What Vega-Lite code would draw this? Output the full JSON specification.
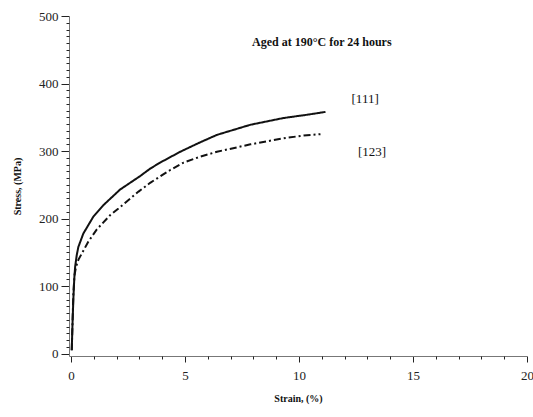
{
  "$schema": "https://vega.github.io/schema/vega-lite/v6.json",
  "autosize": {"type": "none"},
  "width": 458,
  "height": 340,
  "padding": {"left": 69, "top": 16, "right": 6, "bottom": 61},
  "background": "white",
  "config": {
    "view": {"stroke": null},
    "font": "Liberation Serif",
    "axis": {"labelFont": "Liberation Serif", "titleFont": "Liberation Serif", "grid": false}
  },
  "datasets": {
    "curves": [
      {"strain": 0.03, "stress": 5, "orient": "[111]"},
      {"strain": 0.06, "stress": 40, "orient": "[111]"},
      {"strain": 0.1, "stress": 80, "orient": "[111]"},
      {"strain": 0.14, "stress": 110, "orient": "[111]"},
      {"strain": 0.18, "stress": 129, "orient": "[111]"},
      {"strain": 0.25, "stress": 146, "orient": "[111]"},
      {"strain": 0.32, "stress": 158, "orient": "[111]"},
      {"strain": 0.54, "stress": 178, "orient": "[111]"},
      {"strain": 0.98, "stress": 203, "orient": "[111]"},
      {"strain": 1.42, "stress": 220, "orient": "[111]"},
      {"strain": 2.15, "stress": 243, "orient": "[111]"},
      {"strain": 3.03, "stress": 263, "orient": "[111]"},
      {"strain": 3.47, "stress": 274, "orient": "[111]"},
      {"strain": 3.91, "stress": 283, "orient": "[111]"},
      {"strain": 4.79, "stress": 299, "orient": "[111]"},
      {"strain": 5.6, "stress": 312, "orient": "[111]"},
      {"strain": 6.4, "stress": 324, "orient": "[111]"},
      {"strain": 7.87, "stress": 339, "orient": "[111]"},
      {"strain": 9.33, "stress": 349, "orient": "[111]"},
      {"strain": 10.4, "stress": 354, "orient": "[111]"},
      {"strain": 11.16, "stress": 358, "orient": "[111]"},
      {"strain": 0.03, "stress": 5, "orient": "[123]"},
      {"strain": 0.06, "stress": 40, "orient": "[123]"},
      {"strain": 0.1, "stress": 88, "orient": "[123]"},
      {"strain": 0.15, "stress": 116, "orient": "[123]"},
      {"strain": 0.22, "stress": 129, "orient": "[123]"},
      {"strain": 0.32, "stress": 139, "orient": "[123]"},
      {"strain": 0.76, "stress": 166, "orient": "[123]"},
      {"strain": 1.13, "stress": 184, "orient": "[123]"},
      {"strain": 1.71, "stress": 205, "orient": "[123]"},
      {"strain": 2.08, "stress": 215, "orient": "[123]"},
      {"strain": 2.96, "stress": 240, "orient": "[123]"},
      {"strain": 3.47, "stress": 253, "orient": "[123]"},
      {"strain": 3.84, "stress": 261, "orient": "[123]"},
      {"strain": 4.35, "stress": 272, "orient": "[123]"},
      {"strain": 4.94, "stress": 283, "orient": "[123]"},
      {"strain": 5.6, "stress": 291, "orient": "[123]"},
      {"strain": 6.4, "stress": 299, "orient": "[123]"},
      {"strain": 7.87, "stress": 310, "orient": "[123]"},
      {"strain": 9.33, "stress": 319, "orient": "[123]"},
      {"strain": 10.2, "stress": 323, "orient": "[123]"},
      {"strain": 10.94, "stress": 325, "orient": "[123]"}
    ],
    "labels": [
      {"strain": 12.9, "stress": 377, "text": "[111]"},
      {"strain": 13.2, "stress": 298, "text": "[123]"}
    ],
    "heading": [
      {"strain": 11.0, "stress": 462, "text": "Aged at 190°C for 24 hours"}
    ]
  },
  "resolve": {"axis": {"x": "independent", "y": "independent"}},
  "layer": [
    {
      "data": {"name": "curves"},
      "mark": {"type": "line", "strokeWidth": 2, "color": "#111"},
      "encoding": {
        "x": {
          "field": "strain", "type": "quantitative",
          "scale": {"domain": [-0.09, 20], "nice": false, "zero": false},
          "axis": {
            "orient": "bottom", "values": [0, 5, 10, 15, 20], "tickSize": 6,
            "domainColor": "#777", "tickColor": "#222", "labelFontSize": 13, "labelColor": "#222",
            "labelPadding": 7, "labelFlush": false,
            "title": "Strain, (%)", "titleFontSize": 10, "titleFontWeight": "bold", "titlePadding": 11, "titleColor": "#111"
          }
        },
        "y": {
          "field": "stress", "type": "quantitative",
          "scale": {"domain": [-3.4, 500], "nice": false, "zero": false},
          "axis": {
            "orient": "left", "values": [0, 100, 200, 300, 400, 500], "tickSize": 8,
            "domainColor": "#777", "tickColor": "#222", "labelFontSize": 13, "labelColor": "#222",
            "labelPadding": 3, "labelFlush": false,
            "title": "Stress, (MPa)", "titleFontSize": 10, "titleFontWeight": "bold", "titlePadding": 16, "titleColor": "#111"
          }
        },
        "strokeDash": {
          "field": "orient", "type": "nominal",
          "scale": {"domain": ["[111]", "[123]"], "range": [[1, 0], [7, 3, 2, 3]]},
          "legend": null
        }
      }
    },
    {
      "data": {"name": "labels"},
      "mark": {"type": "text", "font": "Liberation Serif", "fontSize": 13, "color": "#111"},
      "encoding": {
        "x": {
          "field": "strain", "type": "quantitative",
          "axis": {
            "orient": "bottom", "values": [1,2,3,4,6,7,8,9,11,12,13,14,16,17,18,19],
            "tickSize": 3, "labels": false, "domain": false, "title": null, "tickColor": "#222"
          }
        },
        "y": {
          "field": "stress", "type": "quantitative",
          "axis": {
            "orient": "left",
            "values": [10,20,30,40,50,60,70,80,90,110,120,130,140,150,160,170,180,190,210,220,230,240,250,260,270,280,290,310,320,330,340,350,360,370,380,390,410,420,430,440,450,460,470,480,490],
            "tickSize": 3, "labels": false, "domain": false, "title": null, "tickColor": "#222"
          }
        },
        "text": {"field": "text", "type": "nominal"}
      }
    },
    {
      "data": {"name": "heading"},
      "mark": {"type": "text", "font": "Liberation Serif", "fontSize": 12, "fontWeight": "bold", "color": "#111"},
      "encoding": {
        "x": {"field": "strain", "type": "quantitative", "axis": null},
        "y": {"field": "stress", "type": "quantitative", "axis": null},
        "text": {"field": "text", "type": "nominal"}
      }
    }
  ]
}
